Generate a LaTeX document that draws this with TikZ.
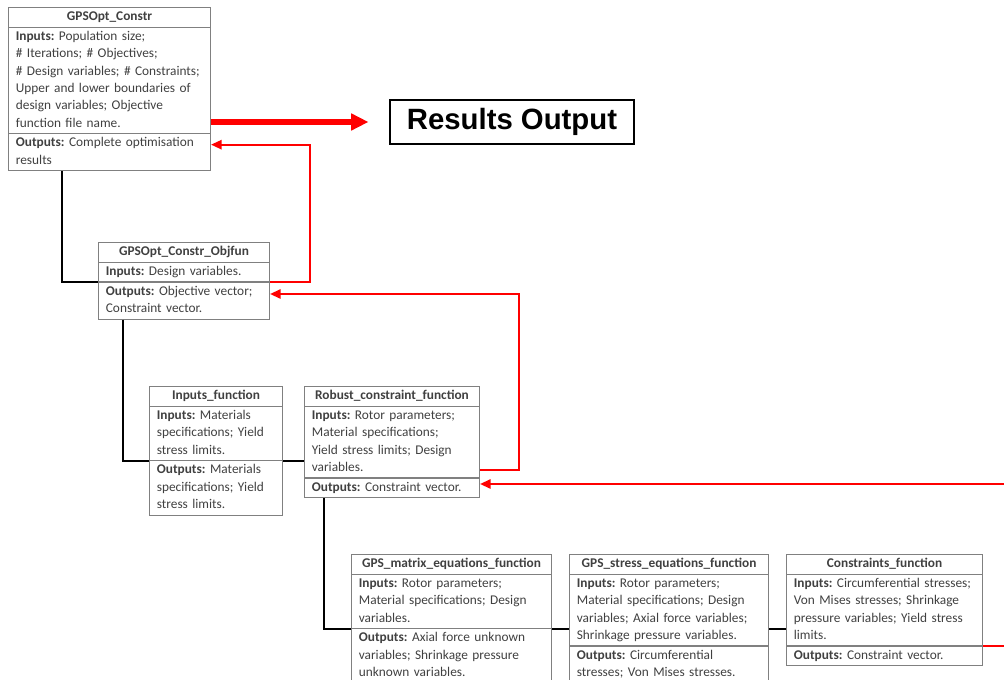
\documentclass[tikz,border=0pt]{standalone}
\usepackage{fontspec}
\setmainfont{Carlito}
\newfontfamily\headfont{Liberation Sans}
\usetikzlibrary{arrows.meta,shapes.multipart,calc}
\frenchspacing
\hyphenpenalty=10000
\definecolor{ink}{HTML}{404040}
\definecolor{frame}{HTML}{808080}
\definecolor{link}{HTML}{FF0000}
% the three rows of a function box
\newcommand{\fnname}[1]{\hbox to\hsize{\hfil\strut\textbf{#1}\hfil}}
\newcommand{\fnin}[1]{\nodepart{two}\strut\textbf{Inputs:} #1\strut}
\newcommand{\fnout}[1]{\nodepart{three}\strut\textbf{Outputs:} #1\strut}
\tikzset{
  fn/.style={rectangle split,rectangle split parts=3,draw=frame,line width=0.8pt,text=ink,align=left,inner xsep=5.5pt,inner ysep=0.5pt,font=\fontsize{10}{13}\selectfont,anchor=north west},
  result/.style={draw=black,line width=2.2pt,font=\headfont\bfseries\fontsize{22}{26}\selectfont,minimum width=183pt,minimum height=33pt,inner sep=2pt},
  call/.style={line width=1.5pt,draw=black},
  back/.style={-{Triangle[length=8pt,width=7pt]},line width=1.5pt,draw=link},
  output/.style={-{Triangle[length=13pt,width=12pt]},line width=3.8pt,draw=link}
}

\begin{document}
\begin{tikzpicture}[x=0.75pt,y=-0.75pt]
\useasboundingbox (0,0) rectangle (1004,680);
\clip (0,0) rectangle (1004,680);

% function boxes
\node[fn,text width=140.5pt] (constr) at (8,7) {\fnname{GPSOpt\_Constr}
  \fnin{Population size;\\\# Iterations; \# Objectives;\\\# Design variables; \# Constraints;\\Upper and lower boundaries of\\design variables; Objective\\function file name.}
  \fnout{Complete optimisation\\results}};
\node[fn,text width=117.25pt] (objfun) at (98,242) {\fnname{GPSOpt\_Constr\_Objfun}
  \fnin{Design variables.}
  \fnout{Objective vector;\\Constraint vector.}};
\node[fn,text width=88.75pt] (infn) at (149,386) {\fnname{Inputs\_function}
  \fnin{Materials\\specifications; Yield\\stress limits.}
  \fnout{Materials\\specifications; Yield\\stress limits.}};
\node[fn,text width=120.25pt] (robust) at (304,386) {\fnname{Robust\_constraint\_function}
  \fnin{Rotor parameters;\\Material specifications;\\Yield stress limits; Design\\variables.}
  \fnout{Constraint vector.}};
\node[fn,text width=139pt] (matrix) at (351,554) {\fnname{GPS\_matrix\_equations\_function}
  \fnin{Rotor parameters;\\Material specifications; Design\\variables.}
  \fnout{Axial force unknown\\variables; Shrinkage pressure\\unknown variables.}};
\node[fn,text width=138.25pt] (stress) at (569,554) {\fnname{GPS\_stress\_equations\_function}
  \fnin{Rotor parameters;\\Material specifications; Design\\variables; Axial force variables;\\Shrinkage pressure variables.}
  \fnout{Circumferential\\stresses; Von Mises stresses.}};
\node[fn,text width=136pt] (cons) at (786,554) {\fnname{Constraints\_function}
  \fnin{Circumferential stresses;\\Von Mises stresses; Shrinkage\\pressure variables; Yield stress\\limits.}
  \fnout{Constraint vector.}};

\node[result] (results) at (512,122) {Results Output};

% calls down the chain
\draw[call] ($(constr.south west)+(54,0)$) |- (objfun.two split west);
\draw[call] ($(objfun.south west)+(25,0)$) |- (infn.two split west);
\draw[call] (infn.two split east) -- (infn.two split east -| robust.west);
\draw[call] ($(robust.south west)+(20,0)$) |- (matrix.two split west);
\draw[call] (matrix.two split east) -- (matrix.two split east -| stress.west);
\draw[call] (matrix.two split east -| stress.east) -- (matrix.two split east -| cons.west);

% values handed back up
\draw[output,shorten >=15pt] (results.west -| constr.east) -- (results.west);
\draw[back] (objfun.two split east) -- ++(40,0) |- ($(constr.two split east)+(0,11)$);
\draw[back] ($(robust.two split east)+(0,-8)$) -- ++(39,0) |- ($(objfun.two split east)+(0,12)$);
\draw[back] (cons.two split east) -- ++(40,0) |- ($(robust.two split east)+(0,6)$);
\end{tikzpicture}
\end{document}
